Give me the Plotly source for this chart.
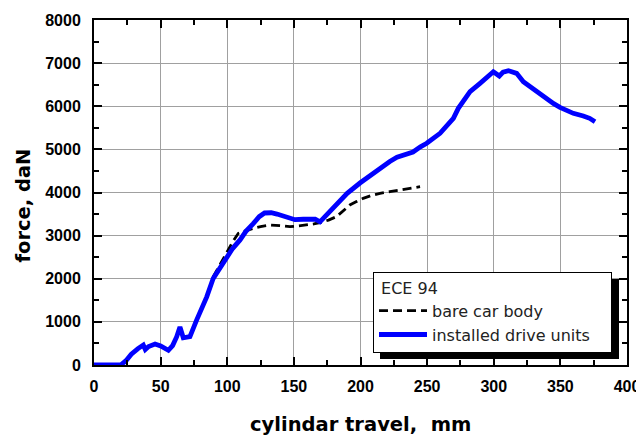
import plotly.graph_objects as go

# ---- data ----
bare_x = [89.5, 95, 99.6, 104, 108.3, 114, 119.5, 125, 132, 140, 147, 153, 159.6, 165, 169.6,
          176, 182, 187, 192, 197, 202, 208, 214.6, 222, 229.6, 237, 244.7]
bare_y = [2048, 2350, 2628, 2850, 3053, 3120, 3170, 3210, 3246, 3230, 3208, 3225, 3246, 3270, 3300,
          3360, 3440, 3580, 3710, 3790, 3865, 3930, 3981, 4020, 4058, 4100, 4135]

drive_x = [0, 20, 24, 28, 33, 37, 38.5, 41, 45.8, 50, 55.8, 59, 62, 64.5, 67, 72, 77, 84.6, 89.5,
           95, 99.6, 104, 109.6, 114, 119.5, 124, 128, 133, 137.3, 144, 150.8, 157, 162, 166,
           169.6, 175, 182.4, 190, 199.6, 208, 216.9, 222, 227.4, 233, 239.4, 245, 249.7, 259.7,
           264, 269.7, 273.4, 282.2, 289.7, 294.7, 299.7, 304.2, 307, 311, 317.2, 322.2, 327.2,
           337.2, 345, 349.7, 359.7, 367.2, 372, 376]
drive_y = [0, 0, 100, 250, 380, 464, 360, 430, 487, 440, 340, 450, 650, 880, 630, 660, 1040, 1580, 2010,
           2280, 2510, 2700, 2900, 3100, 3280, 3440, 3525, 3530, 3500, 3440, 3370, 3380, 3370, 3380,
           3320, 3500, 3760, 3980, 4220, 4420, 4600, 4720, 4820, 4890, 4940, 5060, 5141, 5372,
           5520, 5720, 5952, 6338, 6532, 6686, 6801, 6701, 6790, 6825, 6763, 6570, 6454,
           6222, 6060, 5975, 5836, 5774, 5720, 5642]

legend_title = "ECE 94"
name_bare = "bare car body"
name_drive = "installed drive units"
x_title = "cylindar travel,\u00a0\u00a0mm"
y_title = "force, daN"

FONT = "Arial, Liberation Sans, sans-serif"
WIDE = "DejaVu Sans, Verdana, sans-serif"

fig = go.Figure()
fig.add_trace(go.Scatter(x=bare_x, y=bare_y, mode="lines", name=name_bare,
                         line=dict(color="black", width=2.8, dash="9px,5px")))
fig.add_trace(go.Scatter(x=drive_x, y=drive_y, mode="lines", name=name_drive + "\u00a0" * 3,
                         line=dict(color="#0000ff", width=4.8)))

# the page body has an 8px margin: the figure is placed at (8, 8) in the window
OFF = 8
W, H = 644 - OFF, 437 - OFF
ml, mr, mt, mb = 94 - OFF, 17, 20 - OFF, 72
pw, ph = W - ml - mr, H - mt - mb


def px2paper(px, py):
    """window pixel -> paper coordinate"""
    return (px - OFF - ml) / pw, (mt + ph - (py - OFF)) / ph


axis_common = dict(
    showline=True, linecolor="black", linewidth=2, mirror="ticks",
    ticks="inside", ticklen=8, tickwidth=1.5, tickcolor="black",
    showgrid=True, gridcolor="#a0a0a0", gridwidth=1, zeroline=False,
    automargin=False,
    tickfont=dict(family=FONT, size=16, color="black", weight="bold"),
)

fig.update_xaxes(range=[0, 400], dtick=50, tick0=0,
                 minor=dict(dtick=25, ticks="inside", ticklen=5, tickcolor="black", showgrid=False),
                 ticklabelstandoff=6, **axis_common)
fig.update_yaxes(range=[0, 8000], dtick=1000, tick0=0,
                 minor=dict(dtick=500, ticks="inside", ticklen=5, tickcolor="black", showgrid=False),
                 ticklabelstandoff=8, **axis_common)

# legend placement
lx0, ly0 = px2paper(373, 272)
sx0, sy1 = px2paper(380, 279)
sx1, sy0 = px2paper(619, 359)

fig.update_layout(
    width=W, height=H,
    margin=dict(l=ml, r=mr, t=mt, b=mb, pad=0, autoexpand=False),
    paper_bgcolor="white", plot_bgcolor="white",
    showlegend=True,
    legend=dict(
        x=lx0, y=ly0, xanchor="left", yanchor="top",
        bgcolor="white", bordercolor="black", borderwidth=1,
        font=dict(family=WIDE, size=16, color="#222"),
        title=dict(text="\u00a0" + legend_title, font=dict(family=WIDE, size=16, color="#222")),
        itemwidth=48, tracegroupgap=0,
    ),
    shapes=[dict(type="rect", xref="paper", yref="paper", x0=sx0, x1=sx1, y0=sy0, y1=sy1,
                 fillcolor="black", line=dict(width=0), layer="above")],
    annotations=[
        dict(text=x_title, xref="paper", yref="paper", x=px2paper(360, 0)[0], y=px2paper(0, 425)[1],
             showarrow=False, xanchor="center", yanchor="middle",
             font=dict(family=WIDE, size=19.5, color="black", weight="bold")),
        dict(text=y_title, xref="paper", yref="paper", x=px2paper(22.5, 0)[0], y=px2paper(0, 206)[1],
             showarrow=False, xanchor="center", yanchor="middle", textangle=-90,
             font=dict(family=WIDE, size=19.5, color="black", weight="bold")),
    ],
)

fig.write_html("out.html")
